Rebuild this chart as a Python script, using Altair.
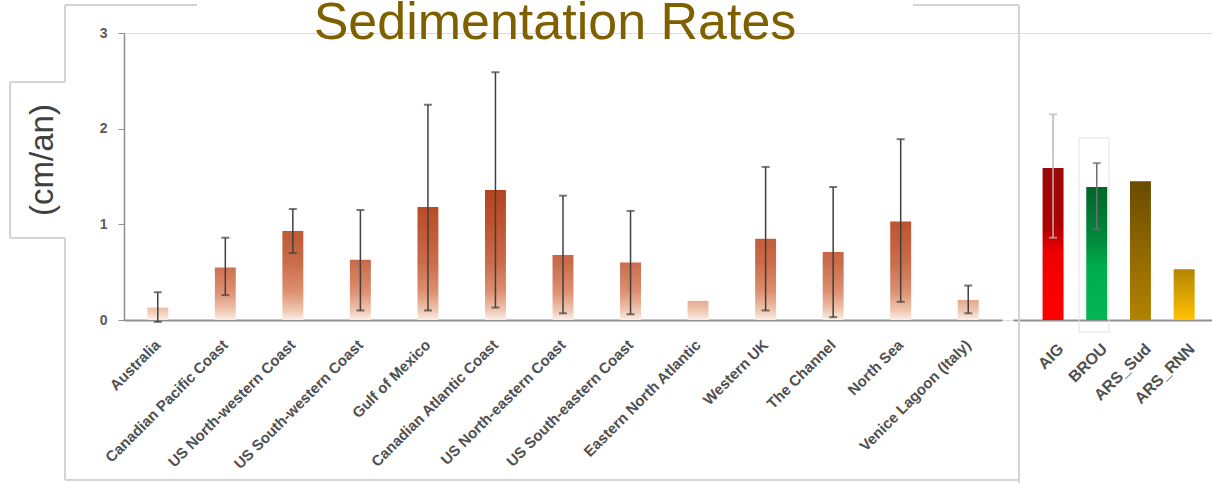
import altair as alt
import pandas as pd

# ---- data -------------------------------------------------------------
regions = [
    "Australia", "Canadian Pacific Coast", "US North-western Coast",
    "US South-western Coast", "Gulf of Mexico", "Canadian Atlantic Coast",
    "US North-eastern Coast", "US South-eastern Coast", "Eastern North Atlantic",
    "Western UK", "The Channel", "North Sea", "Venice Lagoon (Italy)",
]
rates = [0.13, 0.55, 0.93, 0.63, 1.18, 1.36, 0.68, 0.60, 0.20, 0.85, 0.71, 1.03, 0.21]
err_low = [-0.02, 0.26, 0.70, 0.10, 0.10, 0.13, 0.07, 0.06, None, 0.10, 0.03, 0.19, 0.07]
err_high = [0.29, 0.86, 1.16, 1.15, 2.25, 2.59, 1.30, 1.14, None, 1.60, 1.39, 1.89, 0.36]

sites = ["AIG", "BROU", "ARS_Sud", "ARS_RNN"]
site_rates = [1.59, 1.39, 1.45, 0.53]
site_low = [0.86, 0.95, None, None]
site_high = [2.15, 1.64, None, None]

y_ticks = [0, 1, 2, 3]

# ---- styling ----------------------------------------------------------
FONT = "Liberation Sans"
AXIS_GREY = "#8f8f8f"
FRAME_GREY = "#d4d4d4"
LABEL_GREY = "#4f4f4f"

# brown ramp along the value axis: pale at the baseline, rust at the top
RAMP = [(0.0, "#fbf0ea"), (0.1, "#efc6b0"), (0.3, "#dc9070"),
        (0.6, "#ca6c4a"), (1.0, "#be5532"), (1.4, "#b3421a")]

SITE_FILLS = {
    "AIG": [(0, "#9a0a0a"), (0.4, "#b00000"), (0.55, "#ee0000"), (1, "#ff0000")],
    "BROU": [(0, "#00652a"), (0.4, "#008a3c"), (0.6, "#00ad4c"), (1, "#00b552")],
    "ARS_Sud": [(0, "#6a4c00"), (1, "#b38300")],
    "ARS_RNN": [(0, "#b48400"), (1, "#ffc200")],
}
SITE_ERR_COLOR = {"AIG": "#b8b8b8", "BROU": "#6e6e6e"}


def hex2rgb(h):
    h = h.lstrip("#")
    return [int(h[i:i + 2], 16) for i in (0, 2, 4)]


def ramp_color(v):
    for (v0, c0), (v1, c1) in zip(RAMP, RAMP[1:]):
        if v <= v1:
            t = (v - v0) / (v1 - v0)
            a, b = hex2rgb(c0), hex2rgb(c1)
            return "#" + "".join(f"{round(x + (y - x) * t):02x}" for x, y in zip(a, b))
    return RAMP[-1][1]


def gradient(stops):
    return {"gradient": "linear", "x1": 0, "x2": 0, "y1": 0, "y2": 1,
            "stops": [{"offset": o, "color": c} for o, c in stops]}


def bar_gradient(v):
    # top of the bar takes the ramp colour of its own value
    stops = [(0, ramp_color(v))]
    for val, col in reversed(RAMP):
        if val < v:
            stops.append((round((v - val) / v, 4), col))
    return gradient(stops)


# ---- scales / axes ----------------------------------------------------
y_axis = alt.Axis(values=y_ticks, title=None, grid=False, domainColor=AXIS_GREY,
                  domainWidth=1.5, tickColor=AXIS_GREY, tickSize=6, labelPadding=11,
                  labelFont=FONT, labelFontSize=14, labelFontWeight="bold",
                  labelColor="#5a5a5a")
y_scale = alt.Scale(domain=[0, 3], nice=False, zero=True)

left_scale = alt.Scale(domain=regions, range=[0, 878], paddingInner=0.69,
                       paddingOuter=0.345, round=False)
left_axis = alt.Axis(title=None, orient="bottom", ticks=False, domainColor=AXIS_GREY,
                     domainWidth=2, labelAngle=-45, labelAlign="right",
                     labelBaseline="middle", labelPadding=22, labelFont=FONT,
                     labelFontSize=15, labelFontWeight="bold", labelColor=LABEL_GREY,
                     labelLimit=400)

right_scale = alt.Scale(domain=sites, range=[889, 1088], paddingInner=0.52,
                        paddingOuter=0.537, align=0.63, round=False)
right_axis = alt.Axis(title=None, orient="bottom", ticks=False, domainColor=AXIS_GREY,
                      domainWidth=2, labelAngle=-45, labelAlign="right",
                      labelBaseline="middle", labelPadding=26, labelOffset=8,
                      labelFont=FONT, labelFontSize=16, labelFontWeight="bold",
                      labelColor=LABEL_GREY, labelLimit=400)

left_df = pd.DataFrame({"region": regions, "rate": rates, "lo": err_low, "hi": err_high})
right_df = pd.DataFrame({"site": sites, "rate": site_rates, "lo": site_low, "hi": site_high})

xl = alt.X("region:N", scale=left_scale, axis=left_axis)
xr = alt.X("site:N", scale=right_scale, axis=right_axis)


def yq(field):
    return alt.Y(f"{field}:Q", scale=y_scale, axis=y_axis)


# ---- regional bars ----------------------------------------------------
left_layers = []
for name, value in zip(regions, rates):
    left_layers.append(
        alt.Chart(left_df).transform_filter(alt.datum.region == name)
        .mark_bar(color=bar_gradient(value))
        .encode(x=xl, y=yq("rate"))
    )

left_err = alt.Chart(left_df).transform_filter("isValid(datum.hi)")
left_layers += [
    left_err.mark_rule(color="#404040", strokeWidth=1.5)
    .encode(x=xl, y=yq("lo"), y2="hi:Q"),
    left_err.mark_tick(color="#404040", size=8, thickness=2).encode(x=xl, y=yq("hi")),
    left_err.mark_tick(color="#404040", size=8, thickness=2).encode(x=xl, y=yq("lo")),
]
left = alt.layer(*left_layers)

# ---- site bars --------------------------------------------------------
right_layers = [
    # selection outline around BROU
    alt.Chart(pd.DataFrame({"k": [0]})).mark_rect(
        fill=None, stroke="#e2e2e2", strokeWidth=1
    ).encode(x=alt.value(955), x2=alt.value(985), y=alt.value(105), y2=alt.value(299)),
]
for name in sites:
    right_layers.append(
        alt.Chart(right_df).transform_filter(alt.datum.site == name)
        .mark_bar(color=gradient(SITE_FILLS[name]))
        .encode(x=xr, y=yq("rate"))
    )
for name, col in SITE_ERR_COLOR.items():
    err = alt.Chart(right_df).transform_filter(alt.datum.site == name)
    right_layers += [
        err.mark_rule(color=col, strokeWidth=1.5).encode(x=xr, y=yq("lo"), y2="hi:Q"),
        err.mark_tick(color=col, size=8, thickness=2).encode(x=xr, y=yq("hi")),
        err.mark_tick(color=col, size=8, thickness=2).encode(x=xr, y=yq("lo")),
    ]
right = alt.layer(*right_layers)

# ---- frame, title and unit label --------------------------------------
one = pd.DataFrame({"k": [0]})


def hline(x0, x1, y, color=FRAME_GREY, w=2):
    return alt.Chart(one).mark_rule(color=color, strokeWidth=w).encode(
        x=alt.value(x0), x2=alt.value(x1), y=alt.value(y))


def vline(x, y0, y1, color=FRAME_GREY, w=2):
    return alt.Chart(one).mark_rule(color=color, strokeWidth=w).encode(
        x=alt.value(x), y=alt.value(y0), y2=alt.value(y1))


frame = [
    hline(-59, 73, -28), hline(789, 895, -28),
    vline(895, -28, 450),
    hline(-59, 895, 447),
    vline(-59, -28, 49), vline(-59, 205, 447),
    hline(-114, -59, 49), hline(-114, -59, 205), vline(-114, 49, 205),
]

title = alt.Chart(one).mark_text(
    text="Sedimentation Rates", font=FONT, fontSize=52, color="#7f6000",
    align="center", baseline="alphabetic",
).encode(x=alt.value(431), y=alt.value(6))

unit = alt.Chart(one).mark_text(
    text="(cm/an)", font=FONT, fontSize=33, color="#404040", angle=270,
    align="center", baseline="middle",
).encode(x=alt.value(-81), y=alt.value(127))

chart = (
    alt.layer(left, right, *frame, title, unit)
    .resolve_scale(x="independent")
    .properties(
        width=1088, height=287,
        autosize=alt.AutoSizeParams(type="none"),
        padding={"left": 124, "top": 33, "right": 0, "bottom": 163},
        background="white",
    )
    .configure_view(stroke=None)
    .configure(font=FONT)
)

chart.save("out.html", embed_options={"renderer": "svg", "actions": False})
